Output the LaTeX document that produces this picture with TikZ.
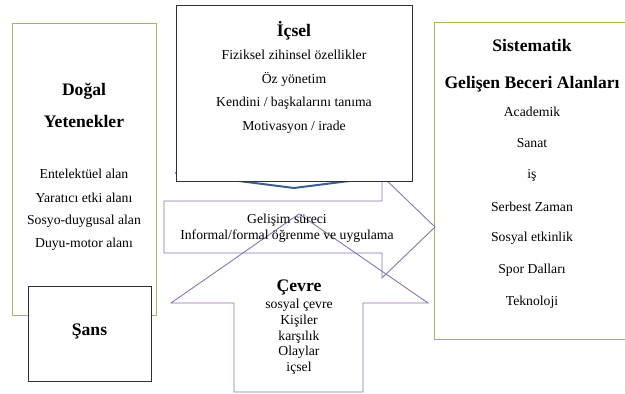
\documentclass[tikz,border=0pt]{standalone}
\usepackage{fontspec}
\setmainfont{Liberation Serif}
\definecolor{ogreen}{HTML}{9BBB59}
\definecolor{opurple}{HTML}{8C74B0}
\definecolor{oblue}{HTML}{3A6190}
\definecolor{oborder}{HTML}{303030}
\begin{document}
\begin{tikzpicture}[x=1pt,y=-1pt,
  greenbox/.style={draw=ogreen, line width=1pt, fill=white, inner sep=0pt},
  blackbox/.style={draw=oborder, line width=1pt, fill=white, inner sep=0pt},
  purpleline/.style={draw=opurple, line width=0.9pt, line join=miter},
  bluechev/.style={draw=oblue, line width=2pt, line join=round, line cap=round},
  title/.style={font=\fontsize{17.6}{20}\selectfont\bfseries, inner sep=0pt},
  body/.style={font=\fontsize{13.7}{15.8}\selectfont, inner sep=0pt, align=center},
]
\useasboundingbox (0,0) rectangle (625,394);
\clip (0,0) rectangle (625,394);
\fill[white] (0,0) rectangle (625,394);

% green boxes
\node[greenbox, minimum width=144pt, minimum height=292pt] (dogal) at (84,169) {};
\node[greenbox, minimum width=198pt, minimum height=317pt] (sist) at (533,180.5) {};

% blue chevron behind the İçsel box
\coordinate (bl) at (176,173);
\coordinate (bt) at (294,188);
\coordinate (br) at (412,173);
\draw[bluechev] (bl) -- (bt) -- (br);

% purple right arrow
\draw[purpleline] (164,201) -- (382,201) -- (382,176) -- (435,227) -- (382,278) -- (382,253) -- (164,253) -- cycle;
% purple up arrow
\draw[purpleline] (299,214) -- (428,303) -- (363,303) -- (363,392) -- (234,392) -- (234,303) -- (171,303) -- cycle;

% black boxes
\node[blackbox, minimum width=236pt, minimum height=176pt] (icsel) at (294,93) {};
\node[blackbox, minimum width=123pt, minimum height=95pt] (sans) at (89.5,333.5) {};

% Doğal texts
\node[title] (t1) at (84,91) {Doğal};
\node[title] (t2) at (84,121) {Yetenekler};
\node[body] (d1) at (84,174) {Entelektüel alan};
\node[body] (d2) at (84,197.5) {Yaratıcı etki alanı};
\node[body] (d3) at (84,221) {Sosyo-duygusal alan};
\node[body] (d4) at (84,244.5) {Duyu-motor alanı};

% İçsel texts
\node[title] (t3) at (294,31) {İçsel};
\node[body] (i1) at (294,55) {Fiziksel zihinsel özellikler};
\node[body] (i2) at (294,79) {Öz yönetim};
\node[body] (i3) at (294,103) {Kendini / başkalarını tanıma};
\node[body] (i4) at (294,127) {Motivasyon / irade};

% Sistematik texts
\node[title] (t4) at (532,45) {Sistematik};
\node[title] (t5) at (532,84) {Gelişen Beceri Alanları};
\node[body] (s1) at (532,112) {Academik};
\node[body] (s2) at (532,143.5) {Sanat};
\node[body] (s3) at (532,175) {iş};
\node[body] (s4) at (532,207) {Serbest Zaman};
\node[body] (s5) at (532,238.5) {Sosyal etkinlik};
\node[body] (s6) at (532,270) {Spor Dalları};
\node[body] (s7) at (532,302) {Teknoloji};

% arrow texts
\node[body, font=\fontsize{13.7}{16}\selectfont] (g) at (287,228.5) {Gelişim süreci\\Informal/formal öğrenme ve uygulama};
\node[title] (t6) at (299,287) {Çevre};
\node[body, font=\fontsize{13.7}{15.7}\selectfont] (c) at (299,337) {sosyal çevre\\Kişiler\\karşılık\\Olaylar\\içsel};

% Şans
\node[title] (t7) at (89.5,331) {Şans};
\end{tikzpicture}
\end{document}
